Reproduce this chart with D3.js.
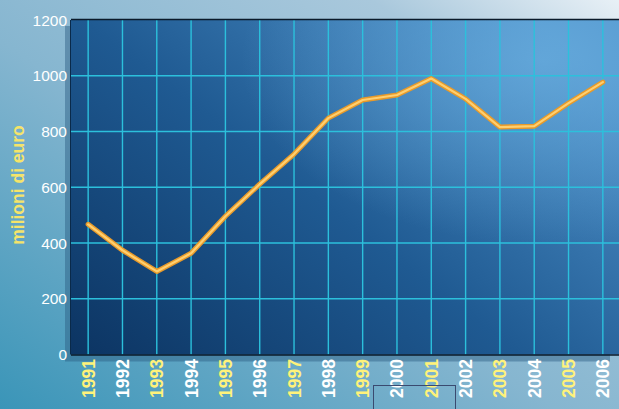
<!DOCTYPE html>
<html><head><meta charset="utf-8">
<script src="https://cdn.jsdelivr.net/npm/d3@7"></script>
<style>html,body{margin:0;padding:0;overflow:hidden}svg{display:block}</style>
</head><body>
<script>
const years = ["1991","1992","1993","1994","1995","1996","1997","1998","1999","2000","2001","2002","2003","2004","2005","2006"];
const values = [467, 374, 298, 363, 496, 611, 719, 848, 913, 931, 990, 917, 816, 819, 902, 977];
const yTicks = [0, 200, 400, 600, 800, 1000, 1200];
const yTitle = "milioni di euro";

const W = 619, H = 409;
const m = {left: 71, top: 20, right: 620, bottom: 354.5};
const svg = d3.select("body").append("svg").attr("width", W).attr("height", H);
const defs = svg.append("defs");

const bg = defs.append("linearGradient").attr("id","bg").attr("x1","0").attr("y1","1").attr("x2","1").attr("y2","0");
bg.append("stop").attr("offset","0").attr("stop-color","#3a95b8");
bg.append("stop").attr("offset","0.45").attr("stop-color","#86b6d0");
bg.append("stop").attr("offset","0.8").attr("stop-color","#a9c8dc");
bg.append("stop").attr("offset","1").attr("stop-color","#e8f0f6");

const pg = defs.append("linearGradient").attr("id","pg").attr("x1","0").attr("y1","1").attr("x2","1").attr("y2","0.2");
pg.append("stop").attr("offset","0").attr("stop-color","#0c3462");
pg.append("stop").attr("offset","0.5").attr("stop-color","#1f5a92");
pg.append("stop").attr("offset","1").attr("stop-color","#4e90c8");

const rg = defs.append("radialGradient").attr("id","rg").attr("cx","0.86").attr("cy","0.12").attr("r","0.55");
rg.append("stop").attr("offset","0").attr("stop-color","#6aafe0").attr("stop-opacity","0.75");
rg.append("stop").attr("offset","1").attr("stop-color","#6aafe0").attr("stop-opacity","0");

svg.append("rect").attr("width",W).attr("height",H).attr("fill","url(#bg)");

const x = d3.scalePoint().domain(years).range([m.left, m.right]).padding(0.5);
const y = d3.scaleLinear().domain([0,1200]).range([m.bottom, m.top]);

// shadow
svg.append("rect").attr("x", m.left-6).attr("y", m.top+6).attr("width", m.right-m.left-4).attr("height", m.bottom-m.top+1)
  .attr("fill","#2a5a80").attr("opacity",0.45);

svg.append("rect").attr("x", m.left).attr("y", m.top).attr("width", m.right-m.left).attr("height", m.bottom-m.top).attr("fill","url(#pg)");
svg.append("rect").attr("x", m.left).attr("y", m.top).attr("width", m.right-m.left).attr("height", m.bottom-m.top).attr("fill","url(#rg)");

// grid
const g = svg.append("g");
g.selectAll(".vg").data(years).join("line")
  .attr("x1", d=>x(d)).attr("x2", d=>x(d)).attr("y1", m.top).attr("y2", m.bottom)
  .attr("stroke","#2cc0dc").attr("stroke-width",1.4);
g.selectAll(".hg").data(yTicks.filter(d=>d>0 && d<1200)).join("line")
  .attr("x1", m.left).attr("x2", m.right).attr("y1", d=>y(d)).attr("y2", d=>y(d))
  .attr("stroke","#2cc0dc").attr("stroke-width",1.4);

// borders
svg.append("line").attr("x1",m.left).attr("x2",m.right).attr("y1",m.top-0.5).attr("y2",m.top-0.5).attr("stroke","#0a1a2a").attr("stroke-width",1.5);
svg.append("line").attr("x1",m.left).attr("x2",m.right).attr("y1",m.bottom+0.5).attr("y2",m.bottom+0.5).attr("stroke","#0a1a2a").attr("stroke-width",1.5);
svg.append("line").attr("x1",m.left-0.5).attr("x2",m.left-0.5).attr("y1",m.top).attr("y2",m.bottom).attr("stroke","#0a2a4a").attr("stroke-width",1);

// line
const line = d3.line().x((d,i)=>x(years[i])).y(d=>y(d));
svg.append("path").datum(values).attr("d",line).attr("fill","none")
  .attr("stroke","#e89a2a").attr("stroke-width",5).attr("stroke-linejoin","round").attr("stroke-linecap","round");
svg.append("path").datum(values).attr("d",line).attr("fill","none")
  .attr("stroke","#ffcf6e").attr("stroke-width",2.2).attr("stroke-linejoin","round").attr("stroke-linecap","round");

// y tick labels
svg.selectAll(".yl").data(yTicks).join("text")
  .attr("x", 67).attr("y", d=>y(d)).attr("dy","0.36em").attr("text-anchor","end")
  .attr("font-family","Liberation Sans, Arial, sans-serif").attr("font-size",15.5).attr("fill","#ffffff")
  .text(d=>d);

// x tick labels
svg.selectAll(".xl").data(years).join("text")
  .attr("transform", d=>`translate(${x(d)+6.5},${m.bottom+4.5}) rotate(-90)`)
  .attr("text-anchor","end")
  .attr("font-family","Liberation Sans, Arial, sans-serif").attr("font-size",17.5).attr("font-weight","bold")
  .attr("fill",(d,i)=> i%2===0 ? "#fff27a" : "#ffffff")
  .text(d=>d);

// y title
svg.append("text").attr("transform","translate(24,185) rotate(-90)").attr("text-anchor","middle")
  .attr("font-family","Liberation Sans, Arial, sans-serif").attr("font-size",17.5).attr("font-weight","bold").attr("fill","#f5e46a")
  .text(yTitle);

// small outline box
svg.append("rect").attr("x",373.5).attr("y",385.5).attr("width",82).attr("height",30)
  .attr("fill","none").attr("stroke","#3a4a70").attr("stroke-width",1);
</script>
</body></html>
